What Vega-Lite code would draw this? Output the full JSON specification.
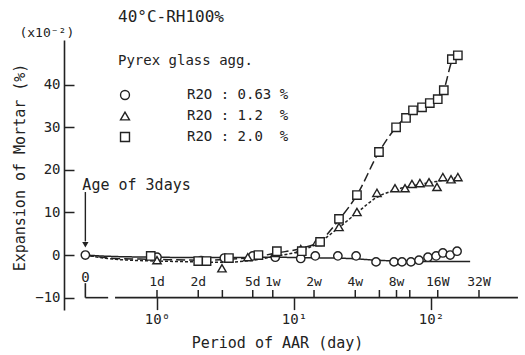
{
  "$schema": "https://vega.github.io/schema/vega-lite/v6.json",
  "width": 454,
  "height": 270,
  "autosize": "none",
  "padding": {"left": 64, "top": 40, "right": 7, "bottom": 45},
  "background": "white",
  "config": {
    "view": {"stroke": null},
    "font": "DejaVu Sans Mono",
    "axis": {"grid": false, "domainColor": "#222", "tickColor": "#222", "labelColor": "#222", "titleColor": "#222"}
  },
  "title": {
    "text": "40°C-RH100%",
    "anchor": "start",
    "frame": "group",
    "dx": 54,
    "offset": 2,
    "font": "DejaVu Sans Mono",
    "fontSize": 16,
    "fontWeight": "normal",
    "color": "#222"
  },
  "datasets": {
    "obs": [
      {"r2o": "0.63", "day": 0.3, "exp": 0},
      {"r2o": "0.63", "day": 1.0, "exp": -0.5},
      {"r2o": "0.63", "day": 2.1, "exp": -1.3},
      {"r2o": "0.63", "day": 3.1, "exp": -0.7},
      {"r2o": "0.63", "day": 5.0, "exp": -0.2},
      {"r2o": "0.63", "day": 7.3, "exp": -0.5},
      {"r2o": "0.63", "day": 11.2, "exp": -0.8},
      {"r2o": "0.63", "day": 14.3, "exp": -0.2},
      {"r2o": "0.63", "day": 20.9, "exp": -0.2},
      {"r2o": "0.63", "day": 28.4, "exp": -0.2},
      {"r2o": "0.63", "day": 39.7, "exp": -1.6},
      {"r2o": "0.63", "day": 53.7, "exp": -1.6},
      {"r2o": "0.63", "day": 61.4, "exp": -1.6},
      {"r2o": "0.63", "day": 71.4, "exp": -1.6},
      {"r2o": "0.63", "day": 81.7, "exp": -1.2},
      {"r2o": "0.63", "day": 95, "exp": -0.5},
      {"r2o": "0.63", "day": 109, "exp": -0.2},
      {"r2o": "0.63", "day": 122, "exp": 0.5},
      {"r2o": "0.63", "day": 138, "exp": 0},
      {"r2o": "0.63", "day": 155, "exp": 0.9},
      {"r2o": "1.2", "day": 1.0, "exp": -1.2},
      {"r2o": "1.2", "day": 2.98, "exp": -3.1},
      {"r2o": "1.2", "day": 4.6, "exp": -0.5},
      {"r2o": "1.2", "day": 7.3, "exp": 0.5},
      {"r2o": "1.2", "day": 11.2, "exp": 1.4},
      {"r2o": "1.2", "day": 14.7, "exp": 3.1},
      {"r2o": "1.2", "day": 21.3, "exp": 6.6},
      {"r2o": "1.2", "day": 28.8, "exp": 10.1},
      {"r2o": "1.2", "day": 40.3, "exp": 14.6},
      {"r2o": "1.2", "day": 54.6, "exp": 15.7},
      {"r2o": "1.2", "day": 64.6, "exp": 15.7},
      {"r2o": "1.2", "day": 72.6, "exp": 16.7},
      {"r2o": "1.2", "day": 83, "exp": 16.9},
      {"r2o": "1.2", "day": 96.7, "exp": 17.1},
      {"r2o": "1.2", "day": 110.6, "exp": 16.0},
      {"r2o": "1.2", "day": 122, "exp": 18.3},
      {"r2o": "1.2", "day": 140, "exp": 17.8},
      {"r2o": "1.2", "day": 157, "exp": 18.3},
      {"r2o": "2.0", "day": 0.9, "exp": -0.2},
      {"r2o": "2.0", "day": 2.0, "exp": -1.4},
      {"r2o": "2.0", "day": 2.3, "exp": -1.4},
      {"r2o": "2.0", "day": 3.35, "exp": -0.7},
      {"r2o": "2.0", "day": 5.5, "exp": 0},
      {"r2o": "2.0", "day": 7.5, "exp": 0.9},
      {"r2o": "2.0", "day": 11.4, "exp": 0.9},
      {"r2o": "2.0", "day": 15.5, "exp": 3.1},
      {"r2o": "2.0", "day": 21.3, "exp": 8.5},
      {"r2o": "2.0", "day": 28.8, "exp": 14.1},
      {"r2o": "2.0", "day": 41.7, "exp": 24.2},
      {"r2o": "2.0", "day": 55.6, "exp": 30.0},
      {"r2o": "2.0", "day": 65.7, "exp": 32.2},
      {"r2o": "2.0", "day": 73.9, "exp": 34.0},
      {"r2o": "2.0", "day": 86, "exp": 34.7},
      {"r2o": "2.0", "day": 98, "exp": 35.7},
      {"r2o": "2.0", "day": 112, "exp": 36.6},
      {"r2o": "2.0", "day": 124, "exp": 38.7},
      {"r2o": "2.0", "day": 142, "exp": 46.0},
      {"r2o": "2.0", "day": 157, "exp": 46.9}
    ],
    "curves": [
      {"curve": "0.63", "day": 0.3, "exp": 0},
      {"curve": "0.63", "day": 0.45, "exp": -0.3},
      {"curve": "0.63", "day": 1, "exp": -0.5},
      {"curve": "0.63", "day": 2, "exp": -0.6},
      {"curve": "0.63", "day": 3.4, "exp": -0.6},
      {"curve": "0.63", "day": 6.7, "exp": -0.5},
      {"curve": "0.63", "day": 11, "exp": -0.6},
      {"curve": "0.63", "day": 25, "exp": -0.8},
      {"curve": "0.63", "day": 40, "exp": -1.2},
      {"curve": "0.63", "day": 80, "exp": -1.5},
      {"curve": "0.63", "day": 193, "exp": -1.5},
      {"curve": "1.2", "day": 0.3, "exp": 0},
      {"curve": "1.2", "day": 0.5, "exp": -1.0},
      {"curve": "1.2", "day": 1, "exp": -1.4},
      {"curve": "1.2", "day": 2, "exp": -1.6},
      {"curve": "1.2", "day": 3, "exp": -1.7},
      {"curve": "1.2", "day": 5, "exp": -1.2},
      {"curve": "1.2", "day": 7.5, "exp": -0.2},
      {"curve": "1.2", "day": 11, "exp": 0.9},
      {"curve": "1.2", "day": 14.7, "exp": 2.7},
      {"curve": "1.2", "day": 21, "exp": 6.3},
      {"curve": "1.2", "day": 29, "exp": 10},
      {"curve": "1.2", "day": 40, "exp": 13.5},
      {"curve": "1.2", "day": 55, "exp": 15.3},
      {"curve": "1.2", "day": 80, "exp": 16.5},
      {"curve": "1.2", "day": 110, "exp": 17.3},
      {"curve": "1.2", "day": 157, "exp": 18.2},
      {"curve": "2.0", "day": 0.3, "exp": 0},
      {"curve": "2.0", "day": 0.5, "exp": -0.8},
      {"curve": "2.0", "day": 1, "exp": -1.0},
      {"curve": "2.0", "day": 2, "exp": -1.2},
      {"curve": "2.0", "day": 3.3, "exp": -1.0},
      {"curve": "2.0", "day": 5.5, "exp": -0.3},
      {"curve": "2.0", "day": 7.5, "exp": 0.5},
      {"curve": "2.0", "day": 11.4, "exp": 1.6},
      {"curve": "2.0", "day": 15.5, "exp": 3.3},
      {"curve": "2.0", "day": 21.3, "exp": 8.3},
      {"curve": "2.0", "day": 28.8, "exp": 14.1},
      {"curve": "2.0", "day": 41.7, "exp": 24.2},
      {"curve": "2.0", "day": 55.6, "exp": 30},
      {"curve": "2.0", "day": 74, "exp": 33.8},
      {"curve": "2.0", "day": 98, "exp": 35.8},
      {"curve": "2.0", "day": 112, "exp": 36.8},
      {"curve": "2.0", "day": 124, "exp": 38.8},
      {"curve": "2.0", "day": 142, "exp": 45.5},
      {"curve": "2.0", "day": 157, "exp": 47.0}
    ],
    "ticks": [
      {"day": 1, "label": "1d"},
      {"day": 2, "label": "2d"},
      {"day": 3, "label": ""},
      {"day": 5, "label": "5d"},
      {"day": 7, "label": "1w"},
      {"day": 14, "label": "2w"},
      {"day": 28, "label": "4w"},
      {"day": 42, "label": ""},
      {"day": 56, "label": "8w"},
      {"day": 70, "label": ""},
      {"day": 112, "label": "16W"},
      {"day": 224, "label": "32W"}
    ]
  },
  "layer": [
    {
      "data": {"name": "curves"},
      "mark": {"type": "line", "color": "#222", "strokeWidth": 1.5, "interpolate": "monotone"},
      "encoding": {
        "x": {
          "field": "day", "type": "quantitative",
          "scale": {"type": "log", "domain": [0.2095, 431.5], "nice": false},
          "axis": {
            "values": [1, 10, 100],
            "labelExpr": "datum.value == 1 ? '10⁰' : datum.value == 10 ? '10¹' : '10²'",
            "domain": false,
            "offset": -12.4,
            "tickSize": 12,
            "tickWidth": 1.5,
            "labelPadding": 3,
            "labelFontSize": 14,
            "labelFont": "DejaVu Sans Mono",
            "title": "Period of AAR (day)",
            "titleFont": "DejaVu Sans Mono",
            "titleFontSize": 15,
            "titleFontWeight": "normal",
            "titleX": 213,
            "titleY": 45,
            "titleAlign": "center",
            "titleBaseline": "middle"
          }
        },
        "y": {
          "field": "exp", "type": "quantitative",
          "scale": {"domain": [-12.9, 50.5], "nice": false, "zero": false},
          "axis": {
            "values": [-10, 0, 10, 20, 30, 40],
            "tickSize": -10,
            "tickWidth": 1.5,
            "domainWidth": 1.6,
            "labelPadding": 14,
            "labelFontSize": 14,
            "labelFont": "DejaVu Sans Mono",
            "title": "Expansion of Mortar (%)",
            "titleFont": "DejaVu Sans Mono",
            "titleFontSize": 15,
            "titleFontWeight": "normal",
            "titleAngle": 270,
            "titleX": -45,
            "titleY": 127,
            "titleAlign": "center",
            "titleBaseline": "middle"
          }
        },
        "strokeDash": {
          "field": "curve", "type": "nominal",
          "scale": {"range": [[1, 0], [3, 2], [9, 4]]},
          "legend": null
        }
      }
    },
    {
      "data": {"name": "obs"},
      "mark": {"type": "point", "fill": "white", "stroke": "#222", "strokeWidth": 1.4, "opacity": 1, "size": 70},
      "encoding": {
        "x": {"field": "day", "type": "quantitative"},
        "y": {"field": "exp", "type": "quantitative"},
        "shape": {
          "field": "r2o", "type": "nominal",
          "scale": {"domain": ["0.63", "1.2", "2.0"], "range": ["circle", "triangle-up", "square"]},
          "legend": {
            "title": "Pyrex glass agg.",
            "orient": "none",
            "legendX": 54,
            "legendY": 14,
            "padding": 0,
            "titleFont": "DejaVu Sans Mono",
            "titleFontSize": 14,
            "titleFontWeight": "normal",
            "titleColor": "#222",
            "titlePadding": 20,
            "labelFont": "DejaVu Sans Mono",
            "labelFontSize": 14,
            "labelColor": "#222",
            "labelOffset": 55,
            "symbolSize": 80,
            "symbolStrokeWidth": 1.4,
            "rowPadding": 6,
            "labelExpr": "'R2O : ' + datum.label + (datum.label === '0.63' ? ' %' : '\u00a0 %')"
          }
        }
      }
    },
    {
      "data": {"values": [{}]},
      "mark": {"type": "rule", "color": "#222", "strokeWidth": 1.6},
      "encoding": {"x": {"datum": 0.3, "type": "quantitative"}, "x2": {"datum": 0.44}, "y": {"datum": -10, "type": "quantitative"}}
    },
    {
      "data": {"values": [{}]},
      "mark": {"type": "rule", "color": "#222", "strokeWidth": 1.6},
      "encoding": {"x": {"datum": 0.494, "type": "quantitative"}, "x2": {"datum": 431}, "y": {"datum": -10, "type": "quantitative"}}
    },
    {
      "data": {"values": [{}]},
      "mark": {"type": "rule", "color": "#222", "strokeWidth": 1.6},
      "encoding": {"x": {"datum": 0.3, "type": "quantitative"}, "y": {"datum": -10, "type": "quantitative"}, "y2": {"datum": -6.6}}
    },
    {
      "data": {"values": [{}]},
      "mark": {"type": "text", "color": "#222", "fontSize": 14, "align": "center", "baseline": "middle", "text": "0"},
      "encoding": {"x": {"datum": 0.3, "type": "quantitative"}, "y": {"datum": -5.3, "type": "quantitative"}}
    },
    {
      "data": {"name": "ticks"},
      "mark": {"type": "rule", "color": "#222", "strokeWidth": 1.5},
      "encoding": {"x": {"field": "day", "type": "quantitative"}, "y": {"datum": -10, "type": "quantitative"}, "y2": {"datum": -8.2}}
    },
    {
      "data": {"name": "ticks"},
      "mark": {"type": "text", "color": "#222", "fontSize": 13, "align": "center", "baseline": "bottom", "dy": -1},
      "encoding": {"x": {"field": "day", "type": "quantitative"}, "y": {"datum": -8.2, "type": "quantitative"}, "text": {"field": "label"}}
    },
    {
      "data": {"values": [{}]},
      "mark": {"type": "rule", "color": "#222", "strokeWidth": 1.4},
      "encoding": {"x": {"datum": 0.3, "type": "quantitative"}, "y": {"datum": 14.8, "type": "quantitative"}, "y2": {"datum": 3.2}}
    },
    {
      "data": {"values": [{}]},
      "mark": {"type": "point", "shape": "triangle-down", "filled": true, "color": "#222", "size": 40, "opacity": 1},
      "encoding": {"x": {"datum": 0.3, "type": "quantitative"}, "y": {"datum": 2.4, "type": "quantitative"}}
    },
    {
      "data": {"values": [{}]},
      "mark": {"type": "text", "color": "#222", "fontSize": 15, "align": "left", "baseline": "alphabetic", "dx": -3, "text": "Age of 3days"},
      "encoding": {"x": {"datum": 0.3, "type": "quantitative"}, "y": {"datum": 15.3, "type": "quantitative"}}
    },
    {
      "data": {"values": [{}]},
      "mark": {"type": "text", "color": "#222", "fontSize": 13, "align": "center", "baseline": "middle", "text": "(x10⁻²)"},
      "encoding": {"x": {"datum": 0.157, "type": "quantitative"}, "y": {"datum": 52.1, "type": "quantitative"}}
    }
  ]
}
